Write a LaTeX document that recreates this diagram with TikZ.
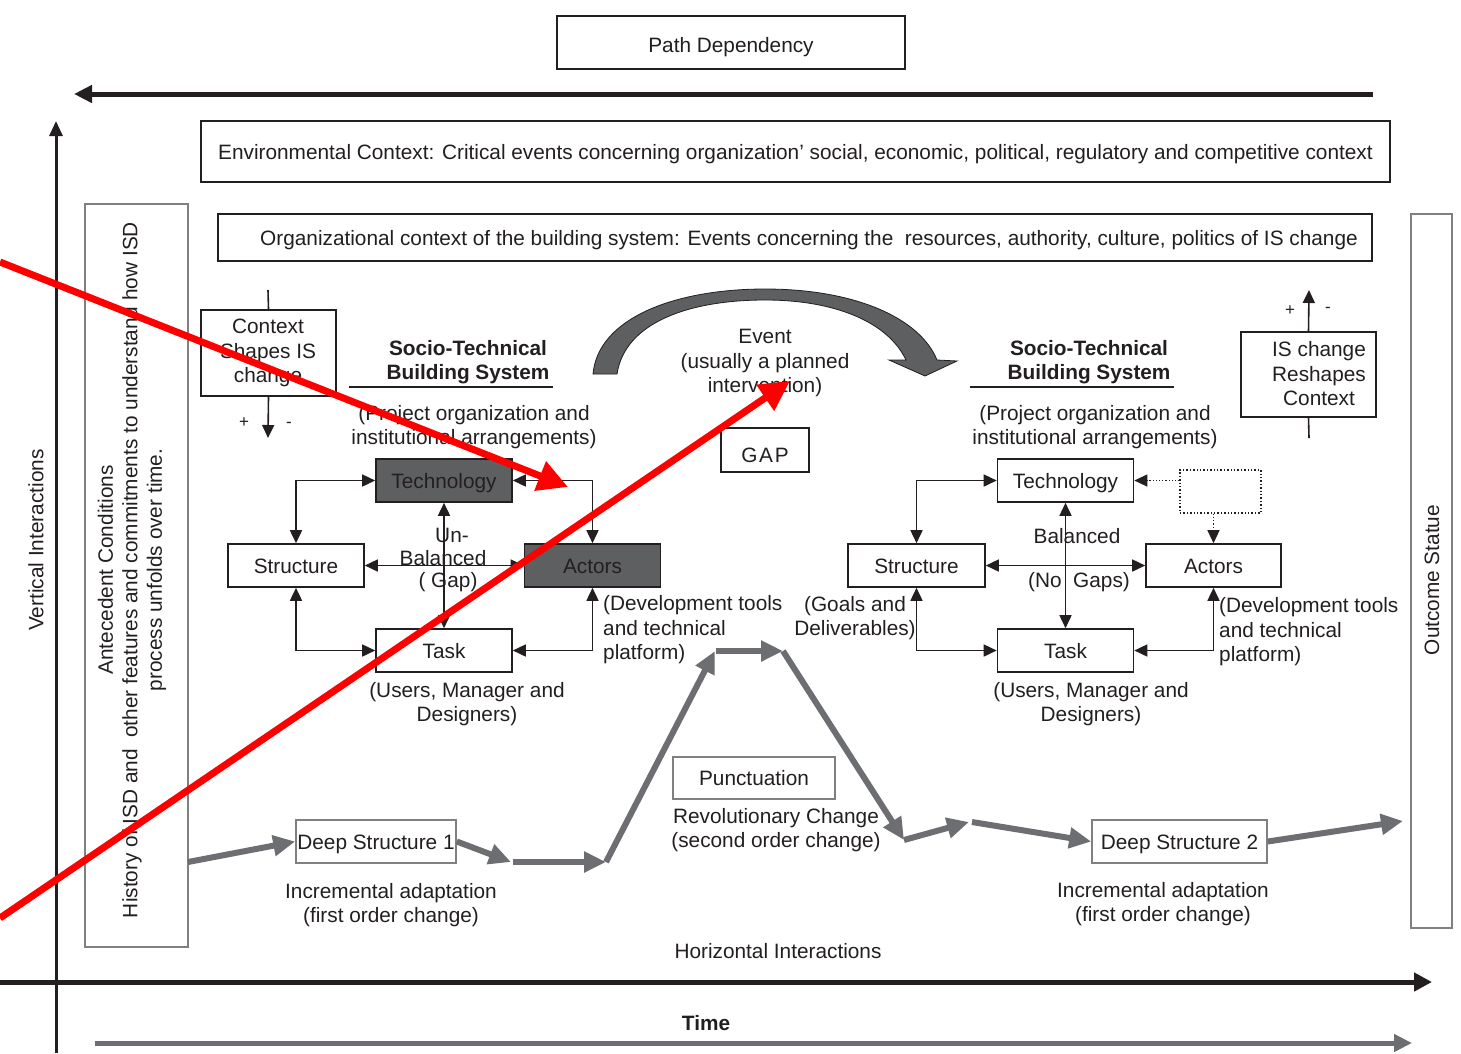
\documentclass[tikz,border=0pt]{standalone}
\usepackage{fontspec}
\setmainfont{Liberation Sans}
\usetikzlibrary{arrows.meta}
\definecolor{ink}{HTML}{231F20}
\definecolor{darkfill}{HTML}{5E5F61}
\definecolor{trajgray}{HTML}{6D6E71}
\definecolor{framegray}{HTML}{808080}
\definecolor{markred}{HTML}{FF0000}
\begin{document}
\begin{tikzpicture}[x=1pt,y=-1pt,
  every node/.style={font=\fontsize{20.8}{24.5}\selectfont, text=ink},
  box/.style={draw=ink, line width=1.6pt, inner sep=0pt, fill=white, text height=15pt, text depth=0pt},
  darkbox/.style={box, fill=darkfill},
  graybox/.style={draw=framegray, line width=1.6pt, inner sep=0pt, fill=white, text height=15pt, text depth=0pt},
  stb/.style={minimum width=136pt, minimum height=43pt},
  txt/.style={align=center, inner sep=0pt},
  link/.style={draw=ink, line width=1.6pt, {Triangle[length=13pt,width=12pt]}-{Triangle[length=13pt,width=12pt]}},
  dotlink/.style={draw=ink, line width=1.2pt, dotted, -{Triangle[length=13pt,width=12pt]}},
  traj/.style={draw=trajgray, line width=6pt, -{Triangle[length=22pt,width=20pt]}},
  redptr/.style={draw=markred, line width=7pt, -{Triangle[length=30pt,width=30pt]}},
]
\useasboundingbox (0,0) rectangle (1461,1053);
\fill[white] (0,0) rectangle (1461,1053);

% ---------- axes ----------
\coordinate (pdR) at (1373,94);
\coordinate (pdL) at (74,94);
\draw[ink, line width=5pt, -{Triangle[length=18pt,width=17pt]}] (pdR) -- (pdL);
\coordinate (vaB) at (56,1053);
\coordinate (vaT) at (56,121);
\draw[ink, line width=3pt, -{Triangle[length=15pt,width=13pt]}] (vaB) -- (vaT);
\coordinate (haL) at (0,982);
\coordinate (haR) at (1432,982);
\draw[ink, line width=5pt, -{Triangle[length=18pt,width=18pt]}] (haL) -- (haR);
\coordinate (tmL) at (95,1043);
\coordinate (tmR) at (1412,1043);
\draw[trajgray, line width=5pt, -{Triangle[length=18pt,width=17pt]}] (tmL) -- (tmR);

\node[txt] (hint) at (778,951) {Horizontal Interactions};
\node[txt, font=\fontsize{20.8}{24.5}\selectfont\bfseries] (time) at (706,1023) {Time};
\node[txt, rotate=90] (vint) at (36,540) {Vertical Interactions};

% ---------- context frames ----------
\node[box, line width=2pt, minimum width=348pt, minimum height=53pt, text height=19pt] (pd) at (731,42.5) {Path Dependency};
\node[box, minimum width=1189pt, minimum height=61pt] (env) at (795.5,151.5)
  {Environmental Context: Critical events concerning organization' social, economic, political, regulatory and competitive context};
\node[box, minimum width=1154pt, minimum height=47pt] (org) at (795,237.5)
  {\hspace*{28pt}Organizational context of the building system: Events concerning the\ \ resources, authority, culture, politics of IS change};

\node[graybox, minimum width=103pt, minimum height=743pt] (ante) at (136.5,575.5) {};
\node[txt, rotate=90] (antetxt) at (132,570)
  {Antecedent Conditions\\History of ISD and\ \ other features and commitments to understand how ISD\\process unfolds over time.};
\node[graybox, minimum width=41pt, minimum height=714pt] (out) at (1431.5,571) {};
\node[txt, rotate=90] (outtxt) at (1432,580) {Outcome Statue};

% ---------- context / IS change feedback ----------
\node[box, minimum width=135pt, minimum height=86pt, text height=, text depth=] (ctx) at (268.5,353) {};
\node[txt] (ctxtxt) at (268,353) {Context\\Shapes IS\\change};
\coordinate (ctxIn) at (268,290);
\draw[ink, line width=1.6pt] (ctxIn) -- (ctx.north);
\coordinate (ctxOut) at (268,438);
\draw[ink, line width=1.6pt, -{Triangle[length=13pt,width=12pt]}] (ctx.south) -- (ctxOut);
\node[txt, font=\fontsize{17}{20}\selectfont] (ctxP) at (244,423) {+};
\node[txt, font=\fontsize{17}{20}\selectfont] (ctxM) at (289,425) {-};

\node[box, minimum width=135pt, minimum height=85pt, text height=, text depth=] (isc) at (1308.5,374.5) {};
\node[txt] (isctxt) at (1319,374) {IS change\\Reshapes\\Context};
\coordinate (iscUp) at (1309,290);
\coordinate (iscDn) at (1309,438);
\draw[ink, line width=1.6pt, -{Triangle[length=13pt,width=12pt]}] (isc.north) -- (iscUp);
\draw[ink, line width=1.6pt] (isc.south) -- (iscDn);
\node[txt, font=\fontsize{17}{20}\selectfont] (iscP) at (1290,311) {+};
\node[txt, font=\fontsize{17}{20}\selectfont] (iscM) at (1328,310) {-};

% ---------- left socio-technical system (unbalanced) ----------
\node[txt, font=\fontsize{20.8}{24}\selectfont\bfseries] (lt) at (468,362) {Socio-Technical\\Building System};
\draw[ink, line width=1.6pt] (349,387) -- (553,387);
\node[txt] (lsub) at (474,427) {(Project organization and\\institutional arrangements)};

\node[darkbox, stb] (tl) at (444,480.5) {Technology};
\node[box, stb] (sl) at (296,565.5) {Structure};
\node[darkbox, stb] (al) at (592.5,565.5) {Actors};
\node[box, stb] (kl) at (444,650.5) {Task};

\draw[link] (sl.north) |- (tl.west);
\draw[link] (tl.east) -| (al.north);
\draw[link] (sl.south) |- (kl.west);
\draw[link] (al.south) |- (kl.east);
\draw[link] (tl.south) -- (kl.north);
\draw[link] (sl.east) -- (al.west);

\node[txt] (lub1) at (452,535) {Un-};
\node[txt] (lub2) at (443,558) {Balanced};
\node[txt] (lub3) at (448,582) {( Gap)};
\node[txt, align=left, anchor=west] (ldev) at (603,630) {(Development tools\\and technical\\platform)};
\node[txt] (lusr) at (467,704) {(Users, Manager and\\Designers)};

% ---------- event arrow and gap ----------
\path[fill=darkfill, draw=ink, line width=0.8pt]
  (593,374) .. controls (598,318) and (675,289) .. (765,289)
  .. controls (855,289) and (920,318) .. (937,360)
  -- (957,361) -- (925,376) -- (889,360) -- (906,360)
  .. controls (888,322) and (835,300) .. (765,300)
  .. controls (690,300) and (625,322) .. (617,374) -- cycle;
\node[txt] (evt) at (765,363) {Event\\(usually a planned\\intervention)};
\node[box, minimum width=88pt, minimum height=44pt, text height=25pt, font=\fontsize{20.8}{24.5}\selectfont\addfontfeature{LetterSpace=8}] (gap) at (765,450) {GAP};

% ---------- right socio-technical system (balanced) ----------
\node[txt, font=\fontsize{20.8}{24}\selectfont\bfseries] (rt) at (1089,362) {Socio-Technical\\Building System};
\draw[ink, line width=1.6pt] (970,387) -- (1174,387);
\node[txt] (rsub) at (1095,427) {(Project organization and\\institutional arrangements)};

\node[box, stb] (tr) at (1065.5,480.5) {Technology};
\node[box, stb, minimum width=137pt] (sr) at (916.5,565.5) {Structure};
\node[box, stb, minimum width=135pt] (ar) at (1213.5,565.5) {Actors};
\node[box, stb] (kr) at (1065.5,650.5) {Task};
\node[draw=ink, line width=1.4pt, dotted, minimum width=81pt, minimum height=43pt, inner sep=0pt] (db) at (1220.5,491.5) {};

\draw[link] (sr.north) |- (tr.west);
\draw[link] (sr.south) |- (kr.west);
\draw[link] (ar.south) |- (kr.east);
\draw[link] (tr.south) -- (kr.north);
\draw[link] (sr.east) -- (ar.west);
\draw[dotlink] (db.west |- tr.east) -- (tr.east);
\draw[dotlink] (db.south -| ar.north) -- (ar.north);

\node[txt] (rb1) at (1077,536) {Balanced};
\node[txt] (rb2) at (1079,582) {(No\ \ Gaps)};
\node[txt] (rgoal) at (855,618) {(Goals and\\Deliverables)};
\node[txt, align=left, anchor=west] (rdev) at (1219,632) {(Development tools\\and technical\\platform)};
\node[txt] (rusr) at (1091,704) {(Users, Manager and\\Designers)};

% ---------- punctuated trajectory ----------
\node[graybox, minimum width=160pt, minimum height=43pt] (ds1) at (376,841.5) {Deep Structure 1};
\node[graybox, minimum width=175pt, minimum height=43pt] (ds2) at (1179.5,841.5) {Deep Structure 2};
\node[graybox, minimum width=162pt, minimum height=42pt] (pun) at (754,778) {Punctuation};
\node[txt] (rev) at (776,830) {Revolutionary Change\\(second order change)};
\node[txt] (inc1) at (391,905) {Incremental adaptation\\(first order change)};
\node[txt] (inc2) at (1163,904) {Incremental adaptation\\(first order change)};

\coordinate (p0) at (188,862);
\coordinate (p1) at (511,862);
\coordinate (p2) at (513,862);
\coordinate (p3) at (606,862);
\coordinate (p4) at (715,651);
\coordinate (p5) at (716,651);
\coordinate (p6) at (783,651);
\coordinate (p7) at (904,840);
\coordinate (p8) at (969,822);
\coordinate (p9) at (972,822);
\coordinate (p10) at (1403,821);
\draw[traj] (p0) -- (ds1.west);
\draw[traj] (ds1.east) -- (p1);
\draw[traj] (p2) -- (p3);
\draw[traj] (p3) -- (p4);
\draw[traj] (p5) -- (p6);
\draw[traj] (p6) -- (p7);
\draw[traj] (p7) -- (p8);
\draw[traj] (p9) -- (ds2.west);
\draw[traj] (ds2.east) -- (p10);

% ---------- red pointers ----------
\coordinate (r1s) at (0,262);
\coordinate (r1e) at (568,487);
\coordinate (r2s) at (0,918);
\coordinate (r2e) at (790,381);
\draw[redptr] (r1s) -- (r1e);
\draw[redptr] (r2s) -- (r2e);
\end{tikzpicture}
\end{document}
